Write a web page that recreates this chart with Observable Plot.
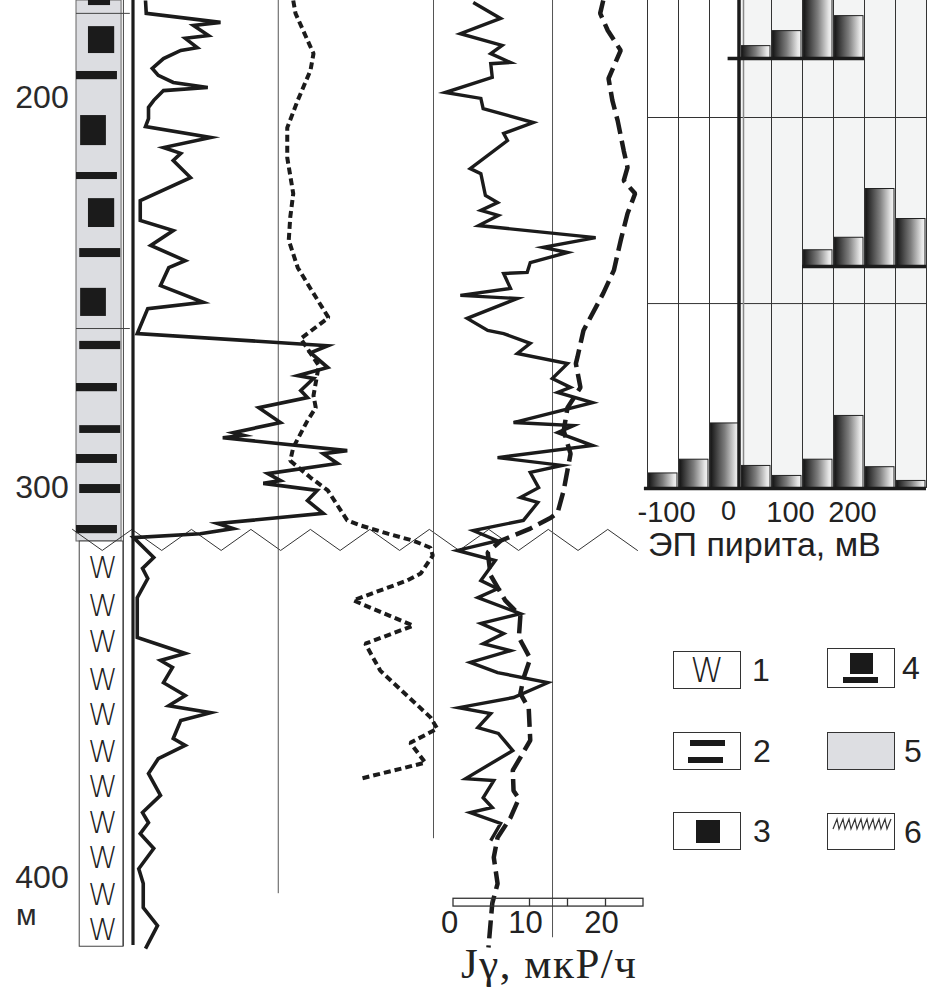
<!DOCTYPE html>
<html><head><meta charset="utf-8">
<script src="https://cdn.jsdelivr.net/npm/d3@7"></script>
<script src="https://cdn.jsdelivr.net/npm/@observablehq/plot@0.6"></script>
<style>
html,body{margin:0;padding:0;background:#fff;overflow:hidden}
#chart{position:relative;width:927px;height:995px;background:#fff}
#chart svg.layer{position:absolute;left:0;top:0}
.lg{position:absolute;width:68px;height:38px;border:1.3px solid #333;box-sizing:border-box;background:#fff}
.lg .blk{position:absolute;background:#1a1a1a}
.ln{position:absolute;font-family:"Liberation Sans",Arial,sans-serif;font-size:32px;color:#222;height:38px;line-height:38px}
</style></head>
<body>
<svg width="0" height="0" style="position:absolute"><defs>
<linearGradient id="barGrad" x1="0" x2="1" y1="0" y2="0">
<stop offset="0" stop-color="#151515"/><stop offset="0.5" stop-color="#7d7d7d"/><stop offset="0.88" stop-color="#e4e4e4"/><stop offset="1" stop-color="#f6f6f6"/>
</linearGradient></defs></svg>
<div id="chart"></div>
<script>
// ---------------- DATA ----------------
// depth ticks (m)
const depthTicks = [200, 300, 400];
// lithology: upper unit (grey, with layers) and lower unit (W)
const upperTop = 175, contactDepth = 313.7, lowerBottom = 417.6;
const intervalLines = [178.3, 259.1];
const barLayers = [[175,176.3],[193.2,195.3],[219.1,220.9],[238.6,240.9],[262.4,264.5],[273.2,275.3],[284.0,286.0],[291.4,293.7],[299.1,301.4],[309.6,311.7]];
const squareLayers = [[181.7,188.6],[204.5,212.2],[225.8,233.2],[248.8,256.0]];
const wDepths = [320.6,330.4,339.6,349.4,358.3,367.8,376.8,386.0,395.0,404.5,413.5];
// contact (erosional) zigzag: index along contact, depth
const contactIdx = [0,1,2,3,4,5,6,7,8,9,10,11,12,13,14,15,16,17,18,19];
const contactZig = [310.6,316.0,310.6,316.0,310.6,316.0,310.6,316.0,310.6,316.0,310.6,316.0,310.6,316.0,310.6,316.0,310.6,316.0,310.6,316.0];
// left log, solid curve [depth, value]
const log1Solid = [[175.0,1.6],[178.3,1.7],[180.6,11.6],[181.4,8.0],[184.0,10.0],[184.7,6.9],[187.1,8.5],[187.8,6.3],[189.9,4.0],[192.4,2.5],[194.2,3.3],[196.0,5.3],[197.3,9.9],[198.1,4.0],[200.6,2.7],[202.4,2.0],[205.3,2.0],[207.3,1.6],[210.1,10.3],[212.7,4.0],[214.2,6.3],[216.0,5.3],[220.4,7.6],[226.3,0.9],[231.4,0.9],[234.0,5.3],[237.8,2.3],[241.7,6.9],[243.5,4.7],[248.1,3.6],[252.4,9.3],[254.0,1.9],[260.4,0.5],
 [263.5,25.9],[265.3,23.6],[269.1,25.9],[271.2,21.9],[271.9,24.0],[275.0,22.3],[276.8,23.2],[279.4,16.7],[283.2,19.6],[285.8,13.3],[286.5,14.7],[287.1,11.9],[290.4,28.5],[291.2,25.3],[293.7,27.2],[296.3,17.9],[298.1,19.6],[298.8,17.3],[300.6,24.5],[303.2,23.2],[306.5,25.3],[309.1,11.2],[310.4,13.3],[311.7,8.9],[312.7,0],
 [317.8,2.7],[320.6,1.2],[323.2,1.9],[328.1,0.5],[338.3,0.5],[342.4,6.9],[344.2,3.6],[346.0,5.2],[349.9,4.0],[353.2,6.9],[355.8,4.7],[357.6,10.3],[359.6,6.3],[364.2,5.3],[366.0,6.9],[369.4,3.3],[373.2,2.0],[378.8,3.6],[383.2,1.2],[385.8,2.0],[388.6,0.9],[392.4,2.7],[397.6,0.7],[401.4,1.3],[407.6,1.3],[412.2,3.2],[418.1,1.6]];
// left log, short-dashed curve [depth, value]
const log1Dash = [[175.0,21.3],[178.3,21.6],[188.6,24.0],[192.9,23.6],[200.6,21.9],[207.6,20.5],[215.3,20.5],[224.5,21.3],[230.6,20.9],[236.5,20.7],[243.5,21.9],[250.1,24.0],[256.3,26.0],[261.7,22.3],[268.6,24.7],[276.3,24.0],[279.4,24.3],[282.7,23.2],[289.6,21.3],[293.0,20.9],[297.3,23.6],[300.6,25.9],[308.3,28.5],[309.6,30.3],[311.7,33.9],[313.5,37.3],[315.3,39.6],[317.3,39.9],[321.9,38.3],[323.7,36.5],[328.8,29.3],[335.3,37.3],[339.9,30.9],[346.8,32.9],[358.8,39.6],[361.7,40.5],[365.3,36.9],[370.4,38.9],[374.5,30.3]];
const log1Grid = [[19.3,404.0],[40,389.9]];
// right log, Jγ (µR/h): solid curve [depth, value]
const jgSolid = [[175.5,2.6],[179.6,6.2],[183.5,0.9],[186.5,6.4],[188.6,4.9],[190.9,7.5],[191.2,4.9],[194.7,5.1],[198.6,-1.1],[200.1,3.6],[202.7,3.9],[206.3,10.5],[209.1,6.6],[210.9,7.1],[218.1,2.2],[219.4,3.6],[225.0,4.2],[226.8,5.8],[228.8,3.6],[230.1,5.9],[232.7,3.3],[235.8,18.7],[238.3,11.8],[239.6,15.0],[242.2,10.1],[244.7,9.7],[245.0,6.6],[248.8,7.5],[250.6,0.9],[251.4,8.4],[256.5,1.8],[259.6,4.5],[260.4,6.6],[262.9,10.1],[265.5,8.4],[268.1,15.0],[271.9,13.0],[274.2,15.4],[275.5,13.7],[278.1,18.3],[283.2,7.9],[284.0,15.8],[285.8,13.7],[289.1,18.3],[292.2,5.8],[294.2,14.3],[296.0,10.1],[299.9,11.2],[302.4,8.8],[303.7,11.1],[308.3,9.2],[310.9,2.6],[313.5,5.8],[316.0,0.5],[318.6,5.5],[323.7,3.6],[325.8,5.8],[328.1,3.2],[332.2,8.8],[334.7,3.6],[337.3,6.6],[339.9,3.9],[341.7,7.5],[344.7,2.2],[347.3,5.8],[349.9,12.4],[353.7,7.9],[356.3,0.7],[357.8,4.9],[361.4,3.2],[362.9,5.9],[367.3,7.8],[374.5,1.6],[375.0,5.3],[379.4,3.9],[381.9,5.1],[383.2,2.2],[386.0,6.2],[390.4,4.9]];
// right log, long-dashed curve [depth, value]
const jgDash = [[175.0,19.7],[178.3,19.3],[182.7,20.3],[187.8,22.0],[195.0,20.4],[200.6,20.9],[205.8,21.6],[213.5,22.4],[217.8,22.9],[221.2,22.4],[224.5,23.9],[229.6,22.9],[236.5,22.0],[244.2,21.1],[250.1,19.7],[259.6,17.1],[266.5,16.3],[268.1,16.1],[274.2,16.7],[279.4,15.0],[285.3,14.5],[291.2,15.4],[300.6,14.5],[306.3,13.7],[307.6,12.8],[310.4,10.1],[313.5,6.2],[316.5,4.5],[322.4,4.9],[328.8,6.8],[332.7,8.8],[338.3,8.6],[343.7,10.1],[348.8,9.2],[352.7,8.8],[356.5,9.9],[364.7,10.1],[372.4,7.8],[377.6,7.9],[379.6,8.6],[384.5,7.5],[389.6,5.8],[394.7,5.3],[401.4,5.8],[406.5,5.1],[417.8,4.6]];
const jgGrid = [[13.03,415.3]];
const jgTicks = [5, 10, 15, 20];
const jgLabels = [0, 10, 20];
// pyrite EP histograms (mV bins of 50, frequency %)
const histRowBase = [189.9, 243.2, 300.1];
const histRowSep = [205.0, 252.7];
const histGrid = [-150,-100,-50,50,100,150,200,250,300];
const histRow1 = [[0,5],[50,11],[100,26],[150,17]];
const histRow2 = [[100,6.5],[150,11.5],[200,31],[250,19]];
const histRow3 = [[-150,6],[-100,11.5],[-50,26],[0,9],[50,5],[100,11.5],[150,29],[200,8.5],[250,3]];
const histBaseSpan = [[-20,200],[100,300],[-155,300]];
const histLabels = [["-100",-100],["0",0],["100",100],["200",200]];

// ---------------- LAYOUT / DRAW ----------------
const W = 927, H = 995;
const chart = document.getElementById("chart");
const depthY = {domain: [175, 430.1], range: [0, 995]};
const depthPx = d3.scaleLinear(depthY.domain, depthY.range);
const ink = "#1b1b1b";
const sans = "Liberation Sans, Arial, sans-serif";

function addLayer(x, y, marks) {
  const svg = Plot.plot({
    width: W, height: H, margin: 0,
    x: {...x, axis: null}, y: {...y, axis: null},
    style: {background: "transparent", overflow: "visible"},
    marks
  });
  svg.classList.add("layer");
  svg.style.position = "absolute"; svg.style.left = "0px"; svg.style.top = "0px";
  chart.appendChild(svg);
  return svg;
}

// lithology column: x in column units (0 = left edge, 1 = right edge)
const barLeft = [0.26,0,0,0.07,0.07,0,0.07,0,0.07,0];
const barRight = [0.74,0.89,0.89,0.96,0.96,0.89,0.96,0.89,0.96,0.89];
addLayer({domain: [0, 1], range: [76, 122]}, depthY, [
  Plot.rect([[upperTop, contactDepth]], {x1: () => 0, x2: () => 0.98, y1: d => d[0], y2: d => d[1], fill: "#dcdde1", stroke: "#666", strokeWidth: 1}),
  Plot.rect([[contactDepth, lowerBottom]], {x1: () => 0.07, x2: () => 1.02, y1: d => d[0], y2: d => d[1], fill: "#fff", stroke: "#444", strokeWidth: 1}),
  Plot.ruleX([[upperTop, lowerBottom]], {x: () => 1.02, y1: d => d[0], y2: d => d[1], stroke: "#444", strokeWidth: 1}),
  Plot.ruleY(intervalLines, {y: d => d, x1: () => 0, x2: () => 1.17, stroke: "#444", strokeWidth: 1}),
  Plot.rect(barLayers, {x1: (d, i) => barLeft[i], x2: (d, i) => barRight[i], y1: d => d[0], y2: d => d[1], fill: ink}),
  Plot.rect(squareLayers, {x1: (d, i) => i % 2 ? 0.09 : 0.26, x2: (d, i) => i % 2 ? 0.65 : 0.83, y1: d => d[0], y2: d => d[1], fill: ink}),
  Plot.text(wDepths, {x: () => 0.57, y: d => d, text: () => "W", fontFamily: "DejaVu Sans, sans-serif", fontWeight: 200, fontSize: 30, fill: "#222"}),
  Plot.text(depthTicks, {x: () => -0.17, y: d => d, text: d => String(d), textAnchor: "end", fontFamily: sans, fontSize: 32, fill: "#2a2a2a"}),
  Plot.text([409.6], {x: () => -1.09, y: d => d, text: () => "м", fontFamily: sans, fontSize: 30, fill: "#2a2a2a"})
]);

// contact zigzag
addLayer({domain: [0, 19], range: [72, 637]}, depthY, [
  Plot.line(contactIdx, {x: d => d, y: (d, i) => contactZig[i], stroke: "#333", strokeWidth: 1})
]);

// left log
addLayer({domain: [0, 40], range: [133, 433]}, depthY, [
  Plot.ruleX(log1Grid, {x: d => d[0], y1: () => 175, y2: d => d[1], stroke: "#555", strokeWidth: 1}),
  Plot.ruleX([[175, 417.3]], {x: () => 0, y1: d => d[0], y2: d => d[1], stroke: ink, strokeWidth: 3.2, dx: -0.5}),
  Plot.line(log1Dash, {x: d => d[1], y: d => d[0], stroke: ink, strokeWidth: 4, strokeDasharray: "7,4", strokeLinecap: "butt", strokeLinejoin: "miter"}),
  Plot.line(log1Solid, {x: d => d[1], y: d => d[0], stroke: ink, strokeWidth: 3.6, strokeLinejoin: "miter", strokeMiterlimit: 6, strokeLinecap: "butt"})
]);

// right log (Jγ)
const jgLayer = addLayer({domain: [0, 25], range: [453, 643]}, depthY, [
  Plot.ruleX(jgGrid, {x: d => d[0], y1: () => 175, y2: d => d[1], stroke: "#555", strokeWidth: 1}),
  Plot.line(jgDash, {x: d => d[1], y: d => d[0], stroke: ink, strokeWidth: 4.5, strokeDasharray: "18,7", strokeLinecap: "butt", strokeLinejoin: "miter"}),
  Plot.line(jgSolid, {x: d => d[1], y: d => d[0], stroke: ink, strokeWidth: 3.4, strokeLinejoin: "miter", strokeMiterlimit: 6, strokeLinecap: "butt"}),
  Plot.rect([[405.3, 407.3]], {x1: () => 0, x2: () => 25, y1: d => d[0], y2: d => d[1], fill: "#fff", fillOpacity: 0, stroke: "#333", strokeWidth: 1.3}),
  Plot.ruleX(jgTicks, {x: d => d, y1: () => 405.3, y2: () => 407.3, stroke: "#333", strokeWidth: 1.3}),
  Plot.text(jgLabels, {x: d => d, y: () => 411.6, text: d => String(d), dx: -4, fontFamily: sans, fontSize: 31, fill: "#222"}),
  Plot.text(["Jγ, мкР/ч"], {x: () => 12.6, y: () => 422.2, text: d => d, fontFamily: "Liberation Serif, Times New Roman, serif", fontSize: 43, fill: "#222"})
]);
jgLayer.querySelectorAll("text").forEach(t => { if (t.textContent.includes("Jγ")) t.style.letterSpacing = "1.5px"; });

// pyrite EP histogram panel
const histX = {domain: [-150, 300], range: [647, 926]};
addLayer(histX, depthY, [
  Plot.rect([[175, 300.1]], {x1: () => 0, x2: () => 300, y1: d => d[0], y2: d => d[1], fill: "#f3f4f4"}),
  Plot.ruleX(histGrid, {x: d => d, y1: () => 175, y2: () => 300.1, stroke: "#333", strokeWidth: 1}),
  Plot.ruleY(histRowSep, {y: d => d, x1: () => -150, x2: () => 300, stroke: "#333", strokeWidth: 1}),
  Plot.ruleX([0], {x: d => d, y1: () => 175, y2: () => 300.1, stroke: "#888", strokeWidth: 1.5, dx: 3})
]);
[histRow1, histRow2, histRow3].forEach((row, k) => {
  const base = depthPx(histRowBase[k]);
  addLayer(histX, {domain: [0, 40], range: [base, base - 100]}, [
    Plot.rect(row, {x1: d => d[0], x2: d => d[0] + 50, y1: () => 0, y2: d => d[1], insetLeft: 1.5, insetRight: 1, fill: "url(#barGrad)", stroke: "#222", strokeWidth: 1})
  ]);
});
addLayer(histX, depthY, [
  Plot.ruleX([0], {x: d => d, y1: () => 175, y2: () => 300.6, stroke: ink, strokeWidth: 3.5, dx: -1.5}),
  Plot.ruleY(histRowBase, {y: d => d, x1: (d, i) => histBaseSpan[i][0], x2: (d, i) => histBaseSpan[i][1], stroke: ink, strokeWidth: 3.5}),
  Plot.text(histLabels.filter(d => d[0] !== "0"), {x: d => d[1], y: () => 306.3, text: d => d[0], dx: -12, fontFamily: sans, fontSize: 29, fill: "#222"}),
  Plot.text(histLabels.filter(d => d[0] === "0"), {x: d => d[1], y: () => 305.9, text: d => d[0], dx: -12, fontFamily: sans, fontSize: 27, fill: "#222"}),
  Plot.text(["ЭП пирита, мВ"], {x: () => -149, y: () => 314.6, text: d => d, textAnchor: "start", fontFamily: sans, fontSize: 34, fill: "#222"})
]);

// ---------------- LEGEND ----------------
const legendHTML = `
<div class="lg" style="left:673px;top:651px;display:flex;align-items:center;justify-content:center;font-family:'DejaVu Sans',sans-serif;font-weight:200;font-size:34px;color:#222">W</div>
<div class="ln" style="left:752px;top:651px">1</div>
<div class="lg" style="left:673px;top:732px"><div class="blk" style="left:16px;top:7px;width:35px;height:6px"></div><div class="blk" style="left:14px;top:24px;width:35px;height:6px"></div></div>
<div class="ln" style="left:753px;top:732px">2</div>
<div class="lg" style="left:673px;top:812px"><div class="blk" style="left:22px;top:7px;width:24px;height:23px"></div></div>
<div class="ln" style="left:753px;top:812px">3</div>
<div class="lg" style="left:827px;top:648px;height:40px"><div class="blk" style="left:22px;top:4px;width:23px;height:21px"></div><div class="blk" style="left:15px;top:28px;width:35px;height:6px"></div></div>
<div class="ln" style="left:902px;top:649px">4</div>
<div class="lg" style="left:827px;top:732px;background:#dddee2"></div>
<div class="ln" style="left:904px;top:732px">5</div>
<div class="lg" style="left:827px;top:813px;height:37px"><svg width="66" height="22" style="position:absolute;left:0;top:0"><polyline fill="none" stroke="#333" stroke-width="1.2" points="5,15 9,5 11,15 15,5 17,15 21,5 23,15 27,5 29,15 33,5 35,15 39,5 41,15 45,5 47,15 51,5 53,15 57,5 59,15 63,5"/></svg></div>
<div class="ln" style="left:904px;top:813px">6</div>`;
chart.insertAdjacentHTML("beforeend", legendHTML);
</script>
</body></html>
